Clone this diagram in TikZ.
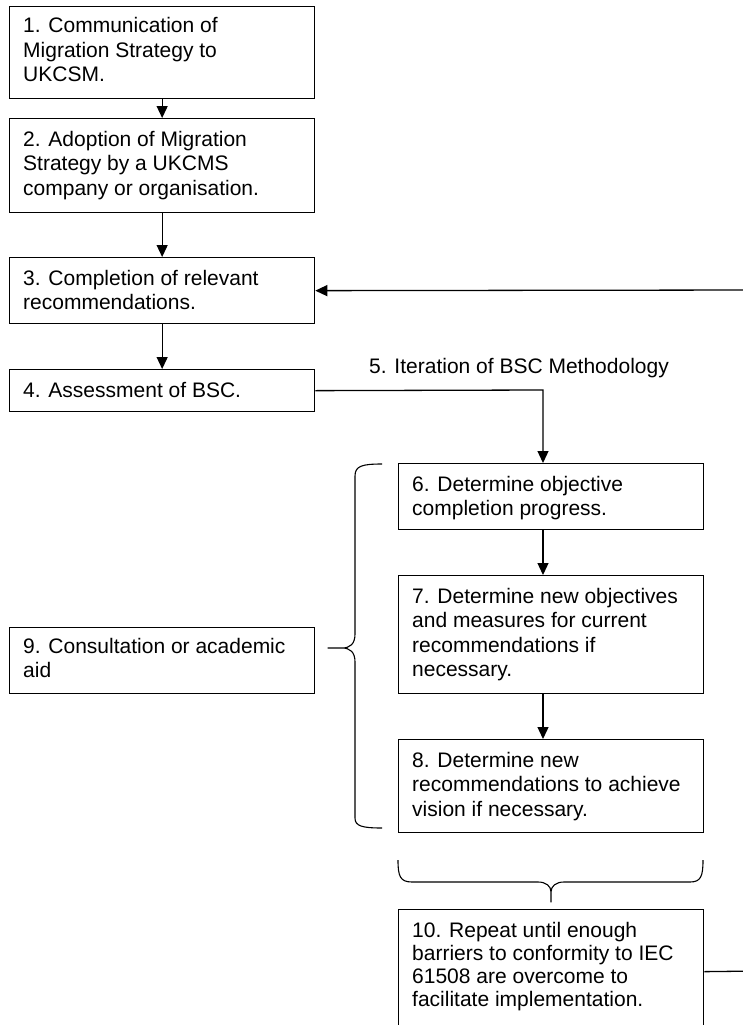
\documentclass[tikz,border=0pt]{standalone}
\usepackage{fontspec}
\setmainfont{Liberation Sans}
\usetikzlibrary{arrows.meta}

% multi-line box text whose reference point is the first baseline
\newcommand{\boxlines}[1]{\begin{tabular}[t]{@{}l@{}}#1\end{tabular}}

\begin{document}
\begin{tikzpicture}[x=1pt,y=-1pt,
  stepbox/.style={draw=black, line width=1.3pt, rectangle, inner sep=0pt, anchor=north west},
  boxtext/.style={anchor=base west, inner sep=0pt, text=black, font=\fontsize{21}{24.5}\selectfont},
  flow/.style={draw=black, line width=1.3pt, -{Triangle[width=11pt,length=12pt]}},
  bracestyle/.style={draw=black, line width=1.1pt, line join=round}]

\useasboundingbox (0,0) rectangle (742,1025);

% left column
\node[stepbox, minimum width=305pt, minimum height=92pt]  (b1) at (9,6) {};
\node[stepbox, minimum width=305pt, minimum height=94pt]  (b2) at (9,118) {};
\node[stepbox, minimum width=305pt, minimum height=66pt]  (b3) at (9,257) {};
\node[stepbox, minimum width=305pt, minimum height=42pt]  (b4) at (9,369) {};
\node[stepbox, minimum width=305pt, minimum height=66pt]  (b9) at (9,627) {};

% right column
\node[stepbox, minimum width=305pt, minimum height=66pt]  (b6) at (398,463) {};
\node[stepbox, minimum width=305pt, minimum height=118pt] (b7) at (398,575) {};
\node[stepbox, minimum width=305pt, minimum height=93pt]  (b8) at (398,739) {};
\node[stepbox, minimum width=305pt, minimum height=124pt] (b10) at (398,909) {};

% box texts
\node[boxtext] (t1) at ([xshift=14pt,yshift=-27pt]b1.north west)
  {\boxlines{1. Communication of\\Migration Strategy to\\UKCSM.}};
\node[boxtext] (t2) at ([xshift=14pt,yshift=-28pt]b2.north west)
  {\boxlines{2. Adoption of Migration\\Strategy by a UKCMS\\company or organisation.}};
\node[boxtext] (t3) at ([xshift=14pt,yshift=-28pt]b3.north west)
  {\boxlines{3. Completion of relevant\\recommendations.}};
\node[boxtext] (t4) at ([xshift=14pt,yshift=-28pt]b4.north west)
  {\boxlines{4. Assessment of BSC.}};
\node[boxtext] (t9) at ([xshift=14pt,yshift=-26pt]b9.north west)
  {\boxlines{9. Consultation or academic\\aid}};
\node[boxtext] (t6) at ([xshift=14pt,yshift=-28pt]b6.north west)
  {\boxlines{6. Determine objective\\completion progress.}};
\node[boxtext] (t7) at ([xshift=14pt,yshift=-28pt]b7.north west)
  {\boxlines{7. Determine new objectives\\and measures for current\\recommendations if\\necessary.}};
\node[boxtext] (t8) at ([xshift=14pt,yshift=-28pt]b8.north west)
  {\boxlines{8. Determine new\\recommendations to achieve\\vision if necessary.}};
\node[boxtext, font=\fontsize{21}{23.3}\selectfont] (t10) at ([xshift=14pt,yshift=-28pt]b10.north west)
  {\boxlines{10. Repeat until enough\\barriers to conformity to IEC\\61508 are overcome to\\facilitate implementation.}};

% iteration label
\node[boxtext] (l5) at (369,373) {5. Iteration of BSC Methodology};

% connectors
\coordinate (c5) at (543,390);
\coordinate (r1) at (760,971);
\coordinate (r2) at (760,290);

\draw[flow] (b1.south) -- (b2.north);
\draw[flow] (b2.south) -- (b3.north);
\draw[flow] (b3.south) -- (b4.north);
\draw[flow] (b4.east) -- (c5) -- (c5 |- b6.north);
\draw[flow] (b6.south -| c5) -- (b7.north -| c5);
\draw[flow] (b7.south -| c5) -- (b8.north -| c5);
\draw[flow] (b10.east) -- (r1) -- (r2) -- (b3.east);

% brace grouping steps 6 to 8, pointing at box 9
\draw[bracestyle] (382,464) .. controls (362,464) and (355,466) .. (355,476)
  -- (355,634) .. controls (355,644) and (350,648) .. (342,648) -- (328,648)
  -- (342,648) .. controls (350,648) and (355,652) .. (355,662)
  -- (355,818) .. controls (355,826) and (362,828) .. (382,828);

% brace under steps 6 to 8, pointing at box 10
\draw[bracestyle] (398,860) .. controls (398,876) and (400,882) .. (412,882)
  -- (538,882) .. controls (546,882) and (551,886) .. (551,892) -- (551,902)
  -- (551,892) .. controls (551,886) and (556,882) .. (564,882)
  -- (690,882) .. controls (701,882) and (703,876) .. (703,860);

\end{tikzpicture}
\end{document}
